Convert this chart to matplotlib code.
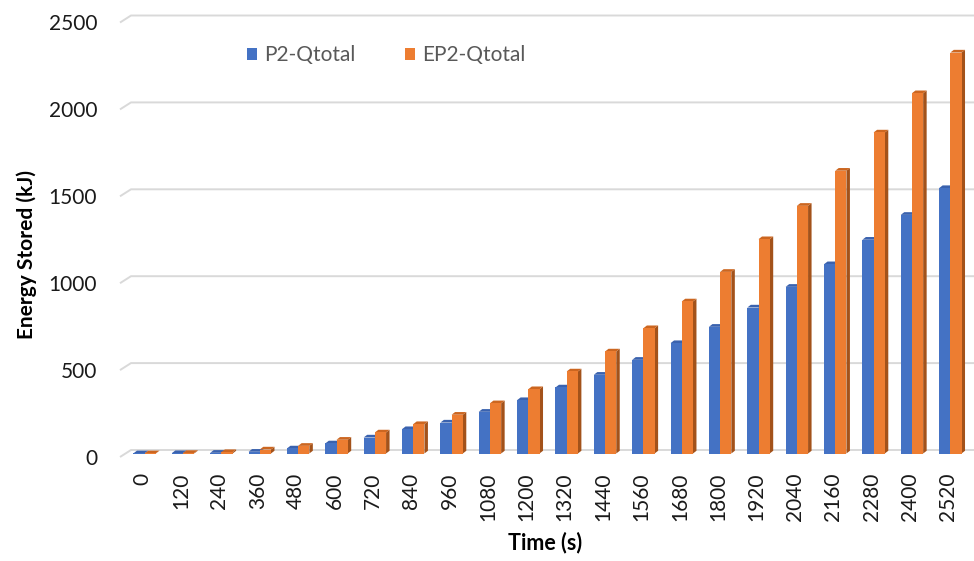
import matplotlib
matplotlib.use("Agg")
import matplotlib.pyplot as plt
from matplotlib.patches import Rectangle, Polygon, Patch
from matplotlib.transforms import ScaledTranslation

# ---- data -------------------------------------------------------------
time_labels = ["0", "120", "240", "360", "480", "600", "720", "840", "960",
               "1080", "1200", "1320", "1440", "1560", "1680", "1800", "1920",
               "2040", "2160", "2280", "2400", "2520"]
p2_qtotal = [1, 2, 4, 10, 29, 58, 92, 140, 178, 240, 307, 380, 453, 539,
             635, 729, 840, 959, 1089, 1230, 1373, 1527]
ep2_qtotal = [1, 3, 8, 23, 44, 79, 121, 169, 223, 289, 370, 472, 587, 721,
              875, 1045, 1233, 1425, 1627, 1847, 2073, 2307]
y_ticks = [0, 500, 1000, 1500, 2000, 2500]

series_names = ["P2-Qtotal", "EP2-Qtotal"]
face_colors = ["#4472C4", "#ED7D31"]
lid_colors = ["#3A62AE", "#CC6620"]
side_colors = ["#2C4C8A", "#A3521A"]

plt.rcParams["font.family"] = ["Lato", "DejaVu Sans"]

W, H, DPI = 974, 561, 100
fig = plt.figure(figsize=(W / DPI, H / DPI), dpi=DPI)

# axes in the plane of the bars (pixel geometry of the plot area)
left_px, right_px, base_px, top_px = 125.5, 969.5, 453.5, 19.0
ax = fig.add_axes([left_px / W, (H - base_px) / H,
                   (right_px - left_px) / W, (base_px - top_px) / H])
n = len(time_labels)
ax.set_xlim(-0.5, n - 0.5)
ax.set_ylim(0, 2500)
for s in ax.spines.values():
    s.set_visible(False)

ux = (right_px - left_px) / n          # pixels per category
uy = (base_px - top_px) / 2500.0       # pixels per kJ

# back wall / floor depth (pixels) converted to data units
wall_dx, wall_dy = 5.5 / ux, 3.5 / uy
grid_color = "#D9D9D9"
x_right = (W - left_px) / ux - 0.5
for v in y_ticks:
    ax.plot([-0.5 - wall_dx, -0.5 + wall_dx, x_right],
            [v - wall_dy, v + wall_dy, v + wall_dy],
            color=grid_color, lw=1.4, clip_on=False, zorder=1,
            solid_capstyle="butt")

# 3D-looking columns
bar_w = 11.2 / ux
bdx, bdy = 3.5 / ux, 2.7 / uy
for i in range(n):
    for k, vals in enumerate([p2_qtotal, ep2_qtotal]):
        v = vals[i]
        x0 = i - bar_w if k == 0 else i
        z = 3 + 0.01 * i + 0.001 * k
        ax.add_patch(Polygon([(x0 + bar_w, 0), (x0 + bar_w + bdx, bdy),
                              (x0 + bar_w + bdx, v + bdy), (x0 + bar_w, v)],
                             closed=True, facecolor=side_colors[k],
                             edgecolor="none", zorder=z, clip_on=False))
        ax.add_patch(Polygon([(x0, v), (x0 + bdx, v + bdy),
                              (x0 + bar_w + bdx, v + bdy), (x0 + bar_w, v)],
                             closed=True, facecolor=lid_colors[k],
                             edgecolor="none", zorder=z, clip_on=False))
        ax.add_patch(Rectangle((x0, 0), bar_w, v, facecolor=face_colors[k],
                               edgecolor="none", zorder=z + 0.0001,
                               clip_on=False))

# ticks
tick_fs = 15
ax.set_yticks(y_ticks)
ax.set_yticklabels([str(t) for t in y_ticks], fontsize=tick_fs, color="#1a1a1a")
ax.set_xticks(range(n))
ax.set_xticklabels(time_labels, rotation=90, fontsize=tick_fs, color="#1a1a1a")
ax.tick_params(axis="y", length=0, pad=20.5)
ax.tick_params(axis="x", length=0, pad=14)
shift_y = ScaledTranslation(0, -3.5 / DPI, fig.dpi_scale_trans)
for lab in ax.get_yticklabels():
    lab.set_transform(lab.get_transform() + shift_y)
shift_x = ScaledTranslation(-2 / DPI, 0, fig.dpi_scale_trans)
for lab in ax.get_xticklabels():
    lab.set_transform(lab.get_transform() + shift_x)

# axis titles
ax.set_ylabel("Energy Stored (kJ)", fontsize=15, fontweight="bold", color="#000000")
ax.yaxis.label.set_va("center")
ax.yaxis.set_label_coords((27 - left_px) / (right_px - left_px), 0.458)
ax.set_xlabel("Time (s)", fontsize=15.5, fontweight="bold", color="#000000")
ax.xaxis.label.set_va("center")
ax.xaxis.set_label_coords((545 - left_px) / (right_px - left_px),
                          -(543 - base_px) / (base_px - top_px))

# legend
handles = [Patch(facecolor=c, edgecolor="none") for c in face_colors]
leg = ax.legend(handles, series_names, ncol=2, frameon=False,
                loc="center left", bbox_to_anchor=(247 / W, (H - 55) / H),
                bbox_transform=fig.transFigure, borderaxespad=0, borderpad=0,
                handlelength=0.5, handleheight=0.5, handletextpad=0.34,
                columnspacing=2.35, fontsize=15)
for t in leg.get_texts():
    t.set_color("#595959")

fig.savefig("out.png", dpi=DPI)
